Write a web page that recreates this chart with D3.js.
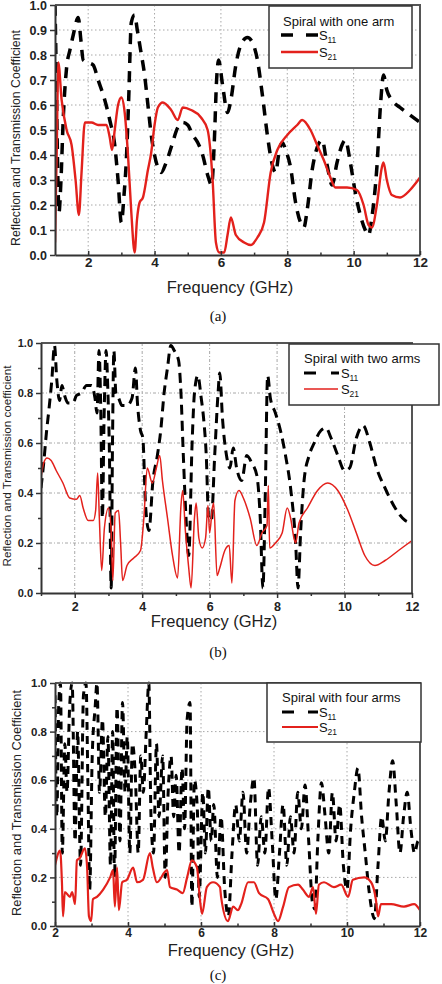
<!DOCTYPE html>
<html>
<head>
<meta charset="utf-8">
<script src="https://cdn.jsdelivr.net/npm/d3@7"></script>
<style>
body { margin: 0; background: #fff; }
svg { display: block; }
</style>
</head>
<body>
<script>
// panel (a) spiral with one arm: [frequency GHz, coefficient]
let s11One = [[1.0,1.0],[1.04,0.7],[1.08,0.35],[1.12,0.17],[1.18,0.3],[1.25,0.55],[1.35,0.75],[1.45,0.82],[1.55,0.88],[1.7,0.95],
    [1.78,0.86],[1.85,0.78],[2.0,0.77],[2.15,0.76],[2.3,0.7],[2.5,0.62],[2.65,0.54],[2.8,0.44],[2.9,0.3],[3.0,0.13],[3.08,0.24],
    [3.15,0.38],[3.22,0.62],[3.3,0.93],[3.4,0.96],[3.48,0.9],[3.58,0.82],[3.7,0.72],[3.8,0.6],[3.9,0.48],[4.0,0.4],[4.1,0.35],
    [4.2,0.33],[4.35,0.37],[4.5,0.43],[4.7,0.51],[4.85,0.53],[5.0,0.52],[5.15,0.48],[5.3,0.45],[5.45,0.4],[5.6,0.32],[5.72,0.28],
    [5.8,0.45],[5.87,0.7],[5.93,0.78],[6.05,0.68],[6.2,0.57],[6.3,0.62],[6.45,0.76],[6.6,0.84],[6.8,0.87],[6.95,0.85],[7.1,0.78],
    [7.25,0.64],[7.4,0.48],[7.55,0.36],[7.65,0.33],[7.75,0.41],[7.85,0.45],[7.95,0.42],[8.1,0.35],[8.25,0.21],[8.4,0.13],[8.5,0.11],
    [8.6,0.18],[8.75,0.34],[8.9,0.43],[9.05,0.46],[9.2,0.36],[9.35,0.28],[9.5,0.37],[9.65,0.44],[9.75,0.46],[9.9,0.37],[10.05,0.25],
    [10.2,0.16],[10.35,0.1],[10.45,0.08],[10.55,0.15],[10.7,0.35],[10.82,0.62],[10.9,0.72],[11.0,0.66],[11.15,0.62],[11.4,0.59],
    [11.7,0.56],[12.0,0.53]]
let s21One = [[1.0,0.05],[1.05,0.4],[1.1,0.77],[1.2,0.62],[1.35,0.5],[1.5,0.44],[1.62,0.3],[1.72,0.16],[1.8,0.33],[1.9,0.53],
    [2.1,0.53],[2.3,0.52],[2.55,0.52],[2.65,0.47],[2.72,0.42],[2.8,0.5],[2.9,0.6],[3.0,0.63],[3.1,0.57],[3.2,0.4],[3.3,0.17],
    [3.4,0.01],[3.47,0.14],[3.55,0.21],[3.65,0.23],[3.8,0.34],[3.9,0.41],[4.0,0.52],[4.1,0.59],[4.25,0.61],[4.5,0.58],[4.7,0.54],
    [4.85,0.59],[5.1,0.58],[5.4,0.55],[5.6,0.5],[5.75,0.3],[5.85,0.05],[5.95,0.01],[6.1,0.01],[6.2,0.08],[6.3,0.15],[6.45,0.08],
    [6.7,0.05],[6.9,0.04],[7.1,0.07],[7.3,0.13],[7.5,0.33],[7.7,0.42],[8.0,0.48],[8.3,0.52],[8.45,0.54],[8.7,0.5],[8.9,0.44],
    [9.1,0.38],[9.3,0.31],[9.45,0.27],[9.8,0.27],[10.1,0.26],[10.3,0.2],[10.45,0.12],[10.55,0.11],[10.7,0.2],[10.85,0.35],
    [10.9,0.37],[11.0,0.3],[11.15,0.24],[11.4,0.23],[11.7,0.26],[12.0,0.31]]

// panel (b) spiral with two arms
let s11Two = [[1.0,0.42],[1.08,0.52],[1.16,0.64],[1.24,0.74],[1.32,0.85],[1.4,0.99],[1.47,0.85],[1.55,0.77],[1.62,0.83],[1.7,0.79],
    [1.8,0.76],[1.95,0.76],[2.05,0.79],[2.2,0.8],[2.35,0.83],[2.5,0.83],[2.6,0.78],[2.66,0.72],[2.72,0.97],[2.77,0.75],[2.82,0.3],
    [2.87,0.7],[2.93,0.97],[2.98,0.82],[3.03,0.55],[3.08,0.02],[3.12,0.6],[3.16,0.97],[3.22,0.8],[3.3,0.78],[3.4,0.75],[3.55,0.75],
    [3.7,0.78],[3.8,0.9],[3.86,0.76],[3.95,0.65],[4.02,0.62],[4.1,0.35],[4.2,0.25],[4.32,0.45],[4.45,0.55],[4.55,0.65],[4.65,0.8],
    [4.75,0.9],[4.85,0.99],[4.95,0.97],[5.08,0.93],[5.15,0.8],[5.22,0.55],[5.3,0.3],[5.38,0.15],[5.48,0.6],[5.55,0.8],[5.65,0.87],
    [5.75,0.78],[5.82,0.7],[5.9,0.55],[5.97,0.3],[6.05,0.29],[6.15,0.55],[6.25,0.8],[6.3,0.88],[6.38,0.7],[6.5,0.55],[6.6,0.5],
    [6.7,0.58],[6.8,0.5],[6.95,0.45],[7.1,0.55],[7.25,0.52],[7.4,0.47],[7.5,0.3],[7.58,0.02],[7.65,0.4],[7.72,0.87],[7.8,0.78],
    [7.95,0.72],[8.1,0.65],[8.25,0.55],[8.4,0.42],[8.55,0.2],[8.62,0.02],[8.7,0.25],[8.8,0.45],[8.95,0.55],[9.1,0.6],[9.3,0.65],
    [9.45,0.66],[9.6,0.62],[9.8,0.55],[10.0,0.49],[10.15,0.5],[10.35,0.62],[10.55,0.67],[10.75,0.6],[10.95,0.5],[11.2,0.42],
    [11.5,0.34],[11.8,0.29],[12.0,0.28]]
let s21Two = [[1.0,0.46],[1.08,0.52],[1.18,0.54],[1.3,0.53],[1.45,0.49],[1.65,0.44],[1.85,0.38],[2.05,0.375],[2.15,0.39],[2.25,0.34],
    [2.4,0.29],[2.55,0.29],[2.62,0.33],[2.68,0.48],[2.73,0.3],[2.8,0.09],[2.88,0.26],[3.0,0.34],[3.08,0.25],[3.13,0.05],[3.2,0.32],
    [3.3,0.33],[3.36,0.2],[3.42,0.05],[3.55,0.11],[3.75,0.14],[3.95,0.17],[4.05,0.3],[4.15,0.5],[4.3,0.44],[4.42,0.5],[4.52,0.55],
    [4.6,0.45],[4.75,0.3],[4.9,0.15],[5.05,0.06],[5.15,0.35],[5.2,0.41],[5.28,0.25],[5.38,0.1],[5.45,0.02],[5.55,0.3],[5.6,0.36],
    [5.68,0.22],[5.78,0.18],[5.88,0.22],[5.95,0.35],[6.0,0.24],[6.08,0.34],[6.12,0.36],[6.22,0.07],[6.3,0.1],[6.45,0.17],[6.58,0.19],
    [6.66,0.04],[6.75,0.37],[6.87,0.41],[7.0,0.38],[7.2,0.3],[7.4,0.19],[7.55,0.24],[7.7,0.27],[7.74,0.43],[7.78,0.18],[7.95,0.2],
    [8.15,0.24],[8.3,0.34],[8.4,0.3],[8.5,0.22],[8.55,0.2],[8.65,0.28],[8.9,0.34],[9.2,0.41],[9.5,0.44],[9.8,0.41],[10.1,0.33],
    [10.35,0.24],[10.6,0.15],[10.9,0.11],[11.2,0.13],[11.6,0.17],[12.0,0.21]]

// panel (c) spiral with four arms
let s11Four = [[2.0,0.95],[2.05,0.45],[2.1,0.9],[2.15,1.0],[2.2,0.3],[2.27,0.75],[2.33,0.55],[2.4,0.9],[2.47,1.0],[2.55,0.35],
    [2.62,0.8],[2.7,0.25],[2.78,0.95],[2.85,1.0],[2.9,0.6],[2.95,0.15],[3.02,0.7],[3.1,0.9],[3.15,1.0],[3.22,0.55],[3.3,0.85],
    [3.38,0.45],[3.45,0.78],[3.52,0.25],[3.58,0.8],[3.63,0.2],[3.7,0.9],[3.78,0.35],[3.85,0.92],[3.92,0.55],[3.98,0.78],[4.05,0.3],
    [4.12,0.75],[4.2,0.62],[4.28,0.3],[4.35,0.7],[4.42,0.55],[4.5,0.8],[4.57,1.0],[4.63,0.45],[4.7,0.3],[4.78,0.75],[4.85,0.45],
    [4.95,0.7],[5.02,0.2],[5.1,0.55],[5.18,0.7],[5.25,0.45],[5.32,0.62],[5.4,0.3],[5.48,0.65],[5.55,0.4],[5.62,0.85],[5.7,0.92],
    [5.75,0.08],[5.82,0.6],[5.9,0.48],[5.95,0.12],[6.05,0.55],[6.12,0.3],[6.2,0.57],[6.28,0.35],[6.35,0.5],[6.45,0.2],[6.55,0.45],
    [6.65,0.15],[6.75,0.04],[6.85,0.3],[6.95,0.5],[7.05,0.35],[7.15,0.55],[7.25,0.3],[7.35,0.5],[7.45,0.61],[7.55,0.25],[7.65,0.45],
    [7.75,0.3],[7.85,0.57],[7.95,0.35],[8.05,0.11],[8.15,0.3],[8.25,0.5],[8.35,0.25],[8.45,0.45],[8.55,0.3],[8.65,0.55],[8.75,0.4],
    [8.85,0.58],[8.95,0.35],[9.05,0.1],[9.12,0.07],[9.2,0.35],[9.3,0.59],[9.4,0.45],[9.5,0.3],[9.6,0.55],[9.7,0.35],[9.8,0.5],
    [9.9,0.25],[10.0,0.15],[10.1,0.4],[10.2,0.55],[10.3,0.65],[10.4,0.45],[10.5,0.3],[10.6,0.15],[10.7,0.05],[10.75,0.03],
    [10.85,0.25],[10.95,0.45],[11.05,0.35],[11.15,0.55],[11.25,0.68],[11.35,0.5],[11.45,0.3],[11.55,0.45],[11.65,0.55],
    [11.75,0.4],[11.85,0.3],[11.95,0.35],[12.0,0.33]]
let s21Four = [[2.0,0.25],[2.14,0.31],[2.19,0.18],[2.22,0.04],[2.27,0.14],[2.41,0.12],[2.47,0.14],[2.55,0.09],[2.6,0.27],[2.68,0.28],
    [2.82,0.32],[2.88,0.24],[2.93,0.04],[2.99,0.02],[3.04,0.11],[3.15,0.12],[3.32,0.15],[3.51,0.2],[3.59,0.23],[3.64,0.08],[3.7,0.24],
    [3.75,0.065],[3.84,0.18],[3.97,0.19],[4.14,0.24],[4.25,0.18],[4.41,0.19],[4.6,0.3],[4.68,0.24],[4.79,0.18],[5.07,0.23],[5.15,0.16],
    [5.34,0.15],[5.5,0.135],[5.62,0.2],[5.75,0.27],[5.89,0.24],[5.97,0.11],[6.03,0.05],[6.16,0.16],[6.33,0.18],[6.52,0.16],[6.55,0.12],
    [6.74,0.02],[6.88,0.08],[7.01,0.065],[7.1,0.09],[7.29,0.18],[7.45,0.18],[7.59,0.135],[7.84,0.11],[8.0,0.05],[8.11,0.02],[8.25,0.08],
    [8.41,0.16],[8.66,0.17],[8.79,0.15],[8.96,0.12],[9.07,0.16],[9.15,0.05],[9.23,0.17],[9.37,0.18],[9.64,0.16],[9.84,0.17],[10.03,0.12],
    [10.16,0.19],[10.47,0.2],[10.66,0.18],[10.79,0.11],[10.85,0.04],[10.93,0.09],[11.21,0.09],[11.56,0.08],[11.84,0.09],[12.0,0.065]]

let xMajor = [2, 4, 6, 8, 10, 12]
let yTenths = [0, 0.1, 0.2, 0.3, 0.4, 0.5, 0.6, 0.7, 0.8, 0.9, 1.0]
let yFifths = [0, 0.2, 0.4, 0.6, 0.8, 1.0]

const sans = '"Liberation Sans", Arial, Helvetica, sans-serif'

let svg = d3.select('body').append('svg')
    .attr('width', 442)
    .attr('height', 984)

svg.append('rect').attr('width', 442).attr('height', 984).attr('fill', '#fff')

const styleAxis = (axisG, fontSize) => {
    axisG.select('.domain').attr('stroke', '#333').attr('stroke-width', 2)
    axisG.selectAll('.tick line').attr('stroke', '#333').attr('stroke-width', 1.5)
    axisG.selectAll('.tick text')
        .attr('font-family', sans)
        .attr('font-weight', 'bold')
        .attr('font-size', fontSize)
        .attr('fill', '#222')
}

const drawPanel = p => {
    let x = d3.scaleLinear().domain(p.xDomain).range([p.left, p.right])
    let y = d3.scaleLinear().domain([0, 1]).range([p.bottom, p.top])
    let g = svg.append('g')

    // grid
    g.selectAll('line.gx').data(p.gridX).enter().append('line')
        .attr('x1', d => x(d)).attr('x2', d => x(d))
        .attr('y1', p.top).attr('y2', p.bottom)
        .attr('stroke', '#a8a8a8').attr('stroke-width', 1).attr('stroke-dasharray', p.gridDash)
    g.selectAll('line.gy').data(p.gridY).enter().append('line')
        .attr('x1', p.left).attr('x2', p.right)
        .attr('y1', d => y(d)).attr('y2', d => y(d))
        .attr('stroke', '#a8a8a8').attr('stroke-width', 1).attr('stroke-dasharray', p.gridDash)

    g.append('clipPath').attr('id', 'clip' + p.id)
        .append('rect')
        .attr('x', p.left).attr('y', p.top - 2)
        .attr('width', p.right - p.left).attr('height', p.bottom - p.top + 2)

    let line = d3.line()
        .x(d => x(d[0]))
        .y(d => y(d[1]))
        .curve(d3.curveMonotoneX)

    g.append('path').datum(p.s11)
        .attr('clip-path', `url(#clip${p.id})`)
        .attr('d', line)
        .attr('fill', 'none')
        .attr('stroke', '#000')
        .attr('stroke-width', p.dashWidth)
        .attr('stroke-dasharray', p.dash)

    g.append('path').datum(p.s21)
        .attr('clip-path', `url(#clip${p.id})`)
        .attr('d', line)
        .attr('fill', 'none')
        .attr('stroke', '#e3211c')
        .attr('stroke-width', p.redWidth)
        .attr('stroke-linejoin', 'round')

    // frame top and right
    g.append('path')
        .attr('d', `M${p.left},${p.top}H${p.right}V${p.bottom}`)
        .attr('fill', 'none').attr('stroke', '#555').attr('stroke-width', 2)

    let xAxis = g.append('g')
        .attr('transform', `translate(0,${p.bottom})`)
        .call(d3.axisBottom(x).tickValues(xMajor).tickFormat(d3.format('d'))
            .tickSize(p.xTick).tickSizeOuter(0).tickPadding(p.xPad))
    styleAxis(xAxis, p.xFont)

    let xMinorAxis = g.append('g')
        .attr('transform', `translate(0,${p.bottom})`)
        .call(d3.axisBottom(x).tickValues(p.xMinor).tickFormat(() => '').tickSize(p.xTick * 0.6).tickSizeOuter(0))
    xMinorAxis.select('.domain').remove()
    xMinorAxis.selectAll('.tick line').attr('stroke', '#333').attr('stroke-width', 1.5)

    let yAxis = g.append('g')
        .attr('transform', `translate(${p.left},0)`)
        .call(d3.axisLeft(y).tickValues(p.yMajor).tickFormat(d3.format('.1f'))
            .tickSize(5).tickSizeOuter(0).tickPadding(3))
    styleAxis(yAxis, p.yFont)

    if (p.yMinor.length) {
        let yMinorAxis = g.append('g')
            .attr('transform', `translate(${p.left},0)`)
            .call(d3.axisLeft(y).tickValues(p.yMinor).tickFormat(() => '').tickSize(3).tickSizeOuter(0))
        yMinorAxis.select('.domain').remove()
        yMinorAxis.selectAll('.tick line').attr('stroke', '#333').attr('stroke-width', 1.5)
    }

    // axis titles
    g.append('text')
        .attr('transform', `translate(${p.yTitleX},${p.yTitleY}) rotate(-90)`)
        .attr('text-anchor', 'middle')
        .attr('font-family', sans)
        .attr('font-size', p.yTitleSize)
        .attr('fill', '#222')
        .text(p.yTitle)

    g.append('text')
        .attr('x', p.xTitleX).attr('y', p.xTitleY)
        .attr('text-anchor', 'middle')
        .attr('font-family', sans)
        .attr('font-size', 16.5)
        .attr('fill', '#222')
        .text('Frequency (GHz)')

    // legend
    let L = p.legend
    g.append('rect')
        .attr('x', L.x0).attr('y', L.y0)
        .attr('width', L.x1 - L.x0).attr('height', L.y1 - L.y0)
        .attr('fill', '#fff').attr('stroke', '#333').attr('stroke-width', 1.5)
    g.append('text')
        .attr('x', L.tx).attr('y', L.ty)
        .attr('font-family', sans).attr('font-size', 13).attr('fill', '#111')
        .text(p.title)
    L.dashes.forEach(d => {
        g.append('line')
            .attr('x1', d[0]).attr('x2', d[1]).attr('y1', L.r1).attr('y2', L.r1)
            .attr('stroke', '#000').attr('stroke-width', p.dashWidth)
    })
    g.append('line')
        .attr('x1', L.lx0).attr('x2', L.lx1).attr('y1', L.r2).attr('y2', L.r2)
        .attr('stroke', '#e3211c').attr('stroke-width', p.redWidth)
    ;[[L.r1, '11'], [L.r2, '21']].forEach(r => {
        g.append('text')
            .attr('x', L.sx).attr('y', r[0] + 4.5)
            .attr('font-family', sans).attr('font-size', 13).attr('fill', '#111')
            .text('S')
        g.append('text')
            .attr('x', L.sx + 8.5).attr('y', r[0] + 8)
            .attr('font-family', sans).attr('font-size', 8.5).attr('fill', '#111')
            .text(r[1])
    })

    svg.append('text')
        .attr('x', 218).attr('y', p.captionY)
        .attr('text-anchor', 'middle')
        .attr('font-family', '"Liberation Serif", "Times New Roman", serif')
        .attr('font-size', 15)
        .attr('fill', '#111')
        .text(p.caption)
}

drawPanel({
    id: 'a', xDomain: [1, 12], left: 55, right: 420, top: 5, bottom: 255,
    s11: s11One, s21: s21One, dash: '11,8', dashWidth: 3.5, redWidth: 2.4,
    gridX: [2, 4, 6, 8, 10], gridY: [0.1, 0.2, 0.3, 0.4, 0.5, 0.6, 0.7, 0.8, 0.9], gridDash: '1.5,2.5',
    xMinor: [3, 5, 7, 9, 11], xTick: -4, xPad: 2, xFont: 13.5,
    yMajor: yTenths, yMinor: [], yFont: 12.5,
    yTitle: 'Reflection and Transmission Coefficient', yTitleX: 20, yTitleY: 138, yTitleSize: 12.3,
    xTitleX: 230, xTitleY: 293,
    title: 'Spiral with one arm', caption: '(a)', captionY: 321,
    legend: {x0: 269, y0: 6, x1: 412, y1: 68, tx: 283, ty: 26, r1: 35, r2: 52,
        dashes: [[281, 293], [306, 318]], lx0: 281, lx1: 318, sx: 319}
})

drawPanel({
    id: 'b', xDomain: [1, 12], left: 41, right: 412, top: 343, bottom: 593,
    s11: s11Two, s21: s21Two, dash: '10,6', dashWidth: 3, redWidth: 1.5,
    gridX: [2, 4, 6, 8, 10], gridY: [0.2, 0.4, 0.6, 0.8], gridDash: '3,2,1,2',
    xMinor: [1, 3, 5, 7, 9, 11], xTick: 5, xPad: 4, xFont: 12.5,
    yMajor: yFifths, yMinor: [0.1, 0.3, 0.5, 0.7, 0.9], yFont: 11,
    yTitle: 'Reflection and Transmission coefficient', yTitleX: 11, yTitleY: 466, yTitleSize: 11.6,
    xTitleX: 214, xTitleY: 627,
    title: 'Spiral with two arms', caption: '(b)', captionY: 657,
    legend: {x0: 289, y0: 344, x1: 439, y1: 405, tx: 304, ty: 363, r1: 373, r2: 389,
        dashes: [[304, 316], [331, 339]], lx0: 304, lx1: 338, sx: 341}
})

drawPanel({
    id: 'c', xDomain: [2, 12], left: 55, right: 420, top: 683, bottom: 926,
    s11: s11Four, s21: s21Four, dash: '8,6', dashWidth: 3, redWidth: 2.2,
    gridX: [4, 6, 8, 10], gridY: [0.2, 0.4, 0.6, 0.8], gridDash: '1.5,2.5',
    xMinor: [3, 5, 7, 9, 11], xTick: -4, xPad: 2, xFont: 12,
    yMajor: yFifths, yMinor: [0.1, 0.3, 0.5, 0.7, 0.9], yFont: 11.5,
    yTitle: 'Reflection and Transmission Coefficient', yTitleX: 21, yTitleY: 803, yTitleSize: 12.9,
    xTitleX: 231, xTitleY: 956,
    title: 'Spiral with four arms', caption: '(c)', captionY: 980,
    legend: {x0: 267, y0: 683, x1: 421, y1: 742, tx: 282, ty: 702, r1: 712, r2: 727,
        dashes: [[282, 294], [308, 318]], lx0: 282, lx1: 318, sx: 319}
})
</script>
</body>
</html>
